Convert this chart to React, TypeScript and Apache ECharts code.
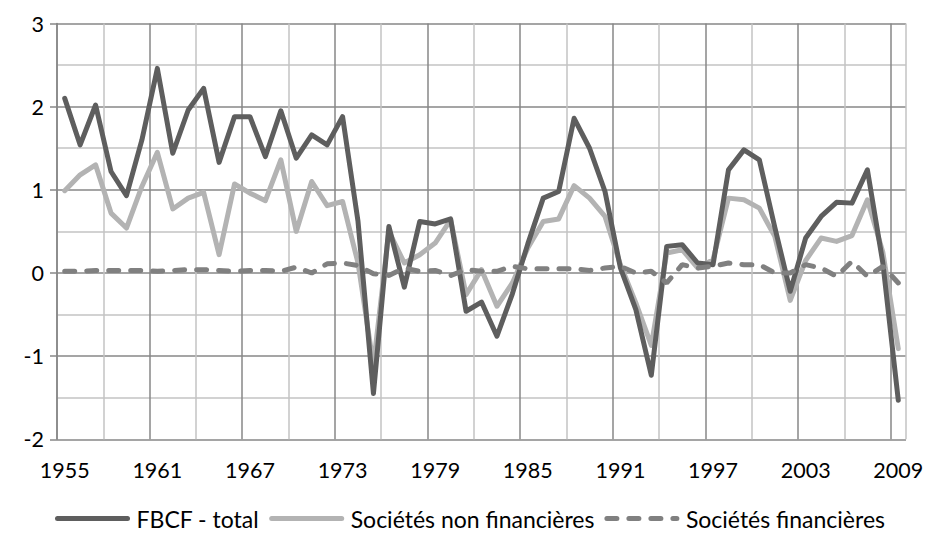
import React, { useEffect, useRef } from "react";
import * as echarts from "echarts";

const startYear = 1955;
const endYear = 2009;
const years: string[] = [];
for (let y = startYear; y <= endYear; y++) years.push(String(y));

const fbcfTotal = [
  2.10, 1.54, 2.02, 1.22, 0.93, 1.60, 2.46, 1.44, 1.96, 2.22,
  1.33, 1.88, 1.88, 1.40, 1.95, 1.38, 1.66, 1.54, 1.88, 0.62,
  -1.45, 0.56, -0.17, 0.62, 0.59, 0.65, -0.46, -0.35, -0.76, -0.25,
  0.35, 0.90, 0.98, 1.86, 1.50, 0.98, 0.06, -0.44, -1.23, 0.32,
  0.34, 0.12, 0.10, 1.24, 1.48, 1.36, 0.55, -0.22, 0.42, 0.68,
  0.85, 0.84, 1.24, 0.12, -1.53,
];

const nonFinancial = [
  0.99, 1.18, 1.30, 0.72, 0.54, 1.04, 1.45, 0.77, 0.90, 0.97,
  0.22, 1.07, 0.96, 0.87, 1.36, 0.50, 1.10, 0.81, 0.86, 0.12,
  -1.11, 0.50, 0.12, 0.22, 0.36, 0.64, -0.26, 0.04, -0.40, -0.12,
  0.30, 0.62, 0.65, 1.05, 0.90, 0.68, 0.10, -0.36, -0.87, 0.24,
  0.28, 0.06, 0.16, 0.90, 0.88, 0.78, 0.44, -0.33, 0.15, 0.42,
  0.38, 0.45, 0.88, 0.25, -0.91,
];

const financial = [
  0.02, 0.02, 0.03, 0.03, 0.03, 0.03, 0.02, 0.03, 0.04, 0.04,
  0.03, 0.02, 0.03, 0.03, 0.02, 0.07, 0.00, 0.11, 0.12, 0.09,
  -0.01, -0.03, 0.06, 0.02, 0.03, -0.03, 0.04, 0.02, 0.02, 0.08,
  0.05, 0.05, 0.05, 0.05, 0.03, 0.06, 0.08, 0.00, 0.02, -0.12,
  0.10, 0.06, 0.08, 0.12, 0.10, 0.10, 0.00, 0.00, 0.10, 0.06,
  -0.04, 0.14, -0.04, 0.08, -0.12,
];

const seriesNames = ["FBCF - total", "Sociétés non financières", "Sociétés financières"];

const FONT = "Lato, 'Open Sans', sans-serif";
const GRID_DARK = "#878787";
const GRID_LIGHT = "#c3c3c3";

export default function App() {
  const ref = useRef<HTMLDivElement>(null);
  useEffect(() => {
    if (!ref.current) return;
    const chart = echarts.init(ref.current, null, { renderer: "svg" });
    chart.setOption({
      animation: false,
      backgroundColor: "#ffffff",
      textStyle: { fontFamily: FONT },
      grid: { left: 57, right: 23, top: 23.5, bottom: 100.7 },
      legend: {
        data: seriesNames,
        left: 50,
        top: 502,
        itemWidth: 70,
        itemHeight: 4,
        itemGap: 10,
        itemStyle: { color: "rgba(0,0,0,0)", borderWidth: 0 },
        lineStyle: { width: 5, cap: "round" },
        textStyle: {
          fontFamily: FONT,
          fontSize: 23,
          color: "#000",
          padding: [0, 0, 0, 4],
        },
      },
      xAxis: {
        type: "category",
        data: years,
        boundaryGap: true,
        axisLine: { show: false, onZero: false },
        axisTick: { show: false },
        axisLabel: {
          interval: 5,
          margin: 20,
          fontSize: 21.5,
          color: "#000",
          fontFamily: FONT,
        },
        splitLine: {
          show: true,
          interval: 2,
          lineStyle: { color: [GRID_DARK, GRID_LIGHT], width: 1.5 },
        },
      },
      yAxis: {
        type: "value",
        min: -2,
        max: 3,
        interval: 1,
        axisLine: { show: true, lineStyle: { color: GRID_DARK, width: 1.5 } },
        axisTick: { show: true, length: 7, lineStyle: { color: GRID_DARK, width: 1.5 } },
        minorTick: { show: false, splitNumber: 2 },
        axisLabel: { margin: 13, fontSize: 21.5, color: "#000", fontFamily: FONT },
        splitLine: { show: true, lineStyle: { color: GRID_DARK, width: 1.5 } },
        minorSplitLine: { show: true, lineStyle: { color: GRID_LIGHT, width: 1.5 } },
      },
      series: [
        {
          name: seriesNames[0],
          type: "line",
          data: fbcfTotal,
          symbol: "none",
          color: "#5e5e5e",
          lineStyle: { width: 5, color: "#5e5e5e", cap: "round", join: "round" },
          z: 4,
        },
        {
          name: seriesNames[1],
          type: "line",
          data: nonFinancial,
          symbol: "none",
          color: "#b3b3b3",
          lineStyle: { width: 5, color: "#b3b3b3", cap: "round", join: "round" },
          z: 3,
        },
        {
          name: seriesNames[2],
          type: "line",
          data: financial,
          symbol: "none",
          color: "#808080",
          lineStyle: { width: 5, color: "#808080", type: [10, 12], cap: "round" },
          z: 5,
        },
      ],
    });
    return () => chart.dispose();
  }, []);
  return (
    <div
      ref={ref}
      style={{ position: "fixed", left: 0, top: 0, width: 929, height: 540 }}
    />
  );
}
